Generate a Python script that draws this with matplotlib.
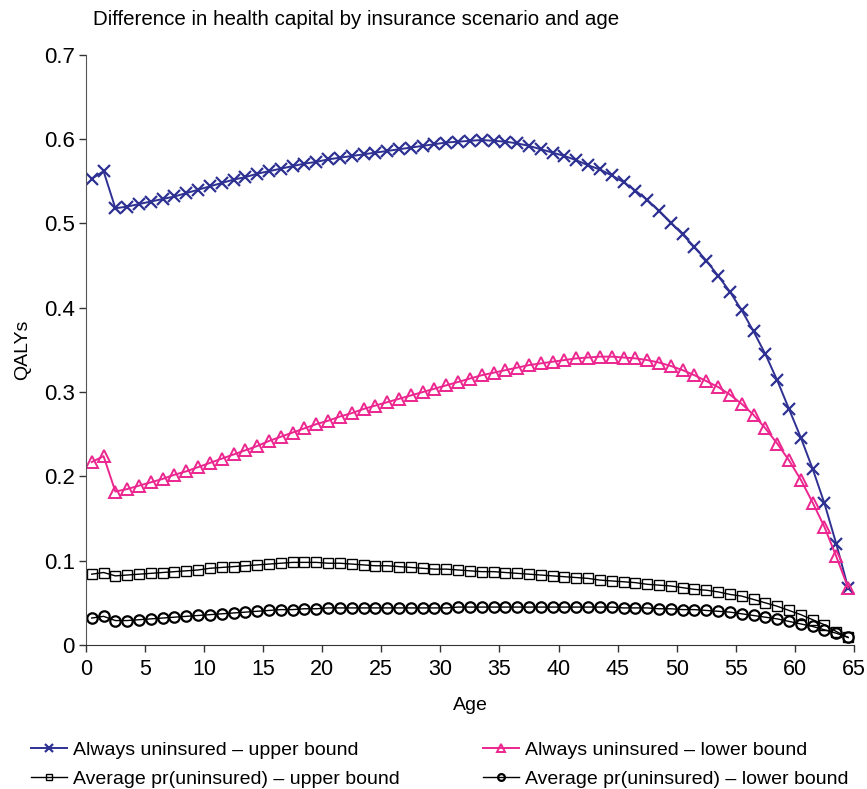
import numpy as np
import matplotlib
matplotlib.use("Agg")
import matplotlib.pyplot as plt

# ages at mid-year points 0.5 ... 64.5
ages = np.arange(65) + 0.5

always_upper = [0.553, 0.562, 0.518, 0.520, 0.523, 0.526, 0.529, 0.532, 0.536, 0.540,
                0.544, 0.548, 0.552, 0.555, 0.559, 0.562, 0.565, 0.568, 0.571, 0.573,
                0.576, 0.578, 0.580, 0.582, 0.584, 0.586, 0.588, 0.590, 0.592, 0.594,
                0.596, 0.597, 0.598, 0.599, 0.598, 0.597, 0.595, 0.592, 0.588, 0.584,
                0.580, 0.575, 0.569, 0.564, 0.557, 0.549, 0.539, 0.528, 0.515, 0.501,
                0.487, 0.472, 0.456, 0.438, 0.419, 0.397, 0.372, 0.345, 0.314, 0.280,
                0.246, 0.209, 0.168, 0.120, 0.068]

always_lower = [0.217, 0.224, 0.182, 0.185, 0.189, 0.193, 0.197, 0.202, 0.206, 0.211,
                0.216, 0.221, 0.226, 0.231, 0.236, 0.242, 0.247, 0.252, 0.257, 0.262,
                0.266, 0.271, 0.275, 0.280, 0.284, 0.288, 0.292, 0.296, 0.300, 0.304,
                0.308, 0.312, 0.316, 0.320, 0.323, 0.326, 0.329, 0.332, 0.334, 0.336,
                0.338, 0.340, 0.341, 0.342, 0.342, 0.341, 0.340, 0.338, 0.335, 0.331,
                0.326, 0.320, 0.313, 0.306, 0.297, 0.286, 0.273, 0.257, 0.239, 0.219,
                0.196, 0.169, 0.140, 0.105, 0.068]

avg_upper = [0.084, 0.086, 0.082, 0.083, 0.084, 0.085, 0.086, 0.087, 0.088, 0.089,
             0.091, 0.092, 0.093, 0.094, 0.095, 0.096, 0.097, 0.098, 0.098, 0.098,
             0.097, 0.097, 0.096, 0.095, 0.094, 0.094, 0.093, 0.092, 0.091, 0.090,
             0.090, 0.089, 0.088, 0.087, 0.087, 0.086, 0.085, 0.084, 0.083, 0.082,
             0.081, 0.080, 0.079, 0.077, 0.076, 0.075, 0.074, 0.072, 0.071, 0.070,
             0.068, 0.066, 0.065, 0.063, 0.060, 0.058, 0.054, 0.050, 0.046, 0.041,
             0.036, 0.030, 0.024, 0.016, 0.009]

avg_lower = [0.032, 0.034, 0.029, 0.029, 0.030, 0.031, 0.032, 0.033, 0.034, 0.035,
             0.036, 0.037, 0.038, 0.039, 0.040, 0.041, 0.042, 0.042, 0.043, 0.043,
             0.044, 0.044, 0.044, 0.044, 0.044, 0.044, 0.044, 0.044, 0.044, 0.044,
             0.044, 0.045, 0.045, 0.045, 0.045, 0.045, 0.045, 0.045, 0.045, 0.045,
             0.045, 0.045, 0.045, 0.045, 0.045, 0.044, 0.044, 0.044, 0.043, 0.043,
             0.042, 0.042, 0.041, 0.040, 0.039, 0.037, 0.035, 0.033, 0.031, 0.028,
             0.025, 0.022, 0.018, 0.014, 0.009]

labels = ["Always uninsured \u2013 upper bound",
          "Always uninsured \u2013 lower bound",
          "Average pr(uninsured) \u2013 upper bound",
          "Average pr(uninsured) \u2013 lower bound"]

BLUE = "#2e3192"
PINK = "#ec268f"

plt.rcParams['font.family'] = ['Liberation Sans', 'DejaVu Sans']

fig = plt.figure(figsize=(8.67, 7.89), dpi=100)
ax = fig.add_axes([0.099, 0.1825, 0.886, 0.748])

h1, = ax.plot(ages, always_upper, color=BLUE, lw=1.4, marker='x', ms=8.5, mew=1.6, label=labels[0])
h2, = ax.plot(ages, always_lower, color=PINK, lw=1.4, marker='^', ms=8.5, mew=1.4,
              mfc='none', label=labels[1])
h3, = ax.plot(ages, avg_upper, color='black', lw=1.0, marker='s', ms=6.5, mew=1.0,
              mfc='none', label=labels[2])
h4, = ax.plot(ages, avg_lower, color='black', lw=1.0, marker='o', ms=7.5, mew=1.6,
              mfc='none', label=labels[3])

ax.set_xlim(0, 65)
ax.set_ylim(0, 0.7)
ax.set_xticks(np.arange(0, 66, 5))
ax.set_yticks(np.arange(0, 0.71, 0.1))
ax.set_yticklabels(['0', '0.1', '0.2', '0.3', '0.4', '0.5', '0.6', '0.7'], fontsize=16)
ax.set_xticklabels([str(v) for v in range(0, 66, 5)], fontsize=15.5)
ax.tick_params(direction='out', length=5, width=1, colors='#333333', labelcolor='black')
ax.tick_params(axis='y', pad=3)
ax.tick_params(axis='x', pad=5)
ax.spines['top'].set_visible(False)
ax.spines['right'].set_visible(False)
ax.spines['left'].set_color('#555555')
ax.spines['bottom'].set_color('#333333')

ax.set_xlabel("Age", fontsize=14, labelpad=12)
ax.set_ylabel("QALYs", fontsize=14, labelpad=9)

fig.text(0.107, 0.975, "Difference in health capital by insurance scenario and age",
         fontsize=14.8, ha='left', va='center')

# legend order: row-wise like the original
fig.legend([h1, h3, h2, h4], [labels[0], labels[2], labels[1], labels[3]],
           loc='upper left', bbox_to_anchor=(0.036, 0.060), ncol=2, frameon=False,
           fontsize=14, columnspacing=4.3, handlelength=1.85, handletextpad=0.3,
           labelspacing=0.55, markerscale=0.65, borderpad=0, borderaxespad=0)

fig.savefig("out.png", dpi=100)
